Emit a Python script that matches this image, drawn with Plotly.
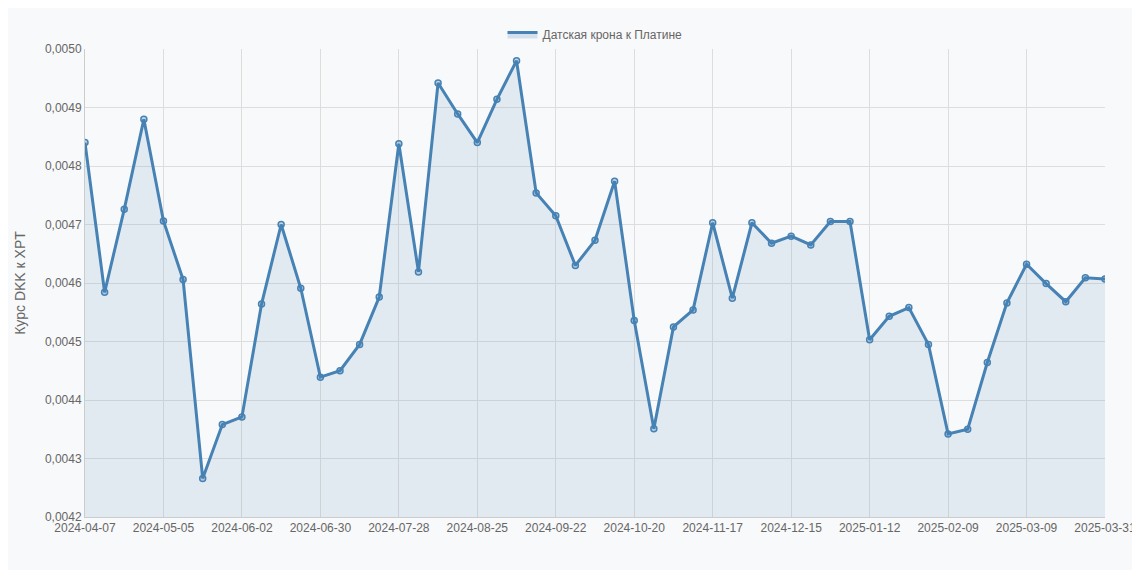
import plotly.graph_objects as go
import pandas as pd

dates = [d.strftime("%Y-%m-%d") for d in pd.date_range("2024-04-07", periods=52, freq="7D")] + ["2025-03-31"]
values = [0.00484, 0.004584, 0.004726, 0.004880, 0.004706, 0.004606, 0.004266, 0.004358, 0.004371,
          0.004564, 0.004700, 0.004591, 0.004439, 0.004450, 0.004495, 0.004576, 0.004838, 0.004619,
          0.004942, 0.004889, 0.004840, 0.004914, 0.004980, 0.004754, 0.004715, 0.004630, 0.004673,
          0.004774, 0.004536, 0.004351, 0.004525, 0.004554, 0.004703, 0.004574, 0.004703, 0.004668,
          0.004680, 0.004665, 0.004705, 0.004705, 0.004503, 0.004543, 0.004558, 0.004495, 0.004342,
          0.004350, 0.004464, 0.004566, 0.004632, 0.004599, 0.004568, 0.004609, 0.004607]
tick_labels = dates[::4] + [dates[-1]]
name = "Датская крона к Платине"

fig = go.Figure(go.Scatter(
    x=dates, y=values, mode="lines+markers", name=name, showlegend=False,
    line=dict(color="#4682b4", width=3), fill="tozeroy", fillcolor="rgba(70,130,180,0.12)",
    marker=dict(size=6, color="rgba(70,130,180,0.3)", line=dict(color="#4682b4", width=1.5)),
))
fig.add_trace(go.Scatter(x=[None], y=[None], mode="lines", name=name, fill="toself",
                         line=dict(color="#4682b4", width=3), fillcolor="rgba(70,130,180,0.2)"))
fig.update_layout(
    width=1140, height=570, margin=dict(l=65, r=32, t=16, b=61),
    paper_bgcolor="#f8f9fa", plot_bgcolor="#f8f9fa",
    font=dict(family="Arial, Liberation Sans", size=12, color="#666"),
    showlegend=True,
    legend=dict(orientation="h", x=0.5, xanchor="center", y=1.0, yanchor="bottom", font=dict(size=12)),
    separators=", ",
)
fig.update_xaxes(type="category", tickvals=tick_labels, ticktext=tick_labels, tickangle=0,
                 showgrid=True, gridcolor="#ddd", linecolor="#ccc", showline=True, range=[0, len(dates)-1])
fig.update_yaxes(range=[0.0042, 0.0050], dtick=0.0001, tickformat=".4f",
                 showgrid=True, gridcolor="#ddd", title=dict(text="Курс DKK к XPT", font=dict(size=14)),
                 linecolor="#ccc", showline=True, zeroline=False)
fig.write_html("out.html")
